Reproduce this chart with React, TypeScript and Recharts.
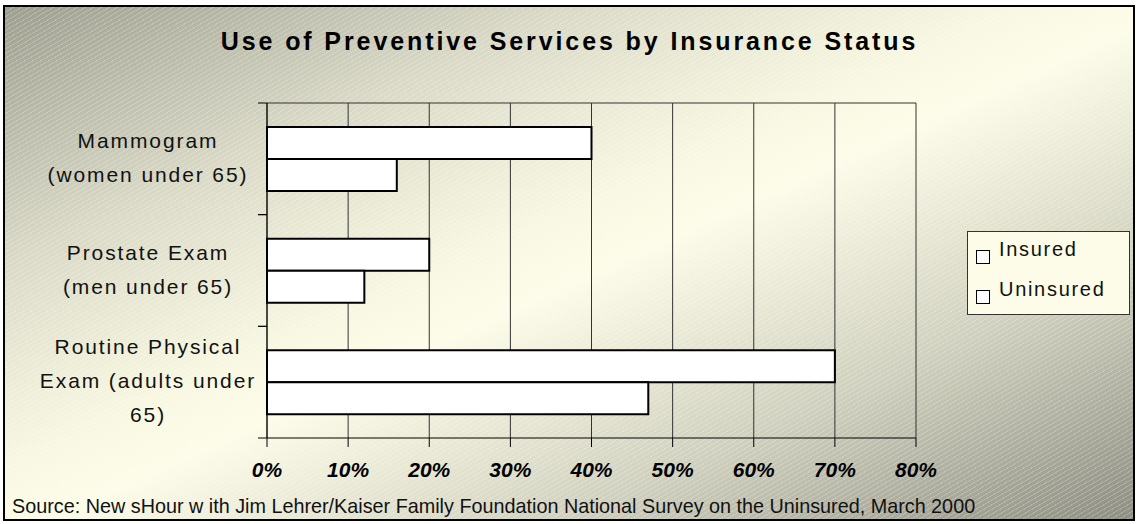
import React from "react";
import { BarChart, Bar, XAxis, YAxis, CartesianGrid, Legend } from "recharts";

const categories = [
  "Mammogram\n(women under 65)",
  "Prostate Exam\n(men under 65)",
  "Routine Physical\nExam (adults under\n65)",
];
const insured = [40, 20, 70];
const uninsured = [16, 12, 47];
const xTicks = [0, 10, 20, 30, 40, 50, 60, 70, 80];

const title = "Use of Preventive Services by Insurance Status";
const source =
  "Source: New sHour w ith Jim Lehrer/Kaiser Family Foundation National Survey on the Uninsured, March 2000";

const W = 1136;
const H = 524;
const M = { top: 103, right: 220, bottom: 46, left: 7 };
const XAXIS_H = 40;
const YAXIS_W = 260;
const FONT = '"Liberation Sans", Arial, sans-serif';

const data = categories.map((name, i) => ({
  name,
  insured: insured[i],
  uninsured: uninsured[i],
}));

const band = (H - M.top - M.bottom - XAXIS_H) / categories.length;

// multi-line category label + tick marks on the band edges
function CatTick(props: any) {
  const { x, y, payload } = props;
  const axisX = x + 9;
  const lines = String(payload.value).split("\n");
  const cx = axisX - 119;
  return (
    <g>
      <line x1={axisX - 9} x2={axisX} y1={y - band / 2} y2={y - band / 2} stroke="#000" />
      <line x1={axisX - 9} x2={axisX} y1={y + band / 2} y2={y + band / 2} stroke="#000" />
      <text
        textAnchor="middle"
        fontFamily={FONT}
        fontSize={21}
        letterSpacing={1.9}
        fill="#111"
      >
        {lines.map((l, i) => (
          <tspan key={i} x={cx} y={y + (i - (lines.length - 1) / 2) * 34 + 6}>
            {l}
          </tspan>
        ))}
      </text>
    </g>
  );
}

function LegendBox({ payload }: any) {
  return (
    <div
      style={{
        position: "relative",
        width: 163,
        height: 84,
        boxSizing: "border-box",
        border: "1px solid #333",
        background: "#fcfce8",
        fontFamily: FONT,
      }}
    >
      {(payload || []).map((p: any, i: number) => (
        <div key={i}>
          <div
            style={{
              position: "absolute",
              left: 8,
              top: 18 + i * 40,
              width: 14,
              height: 14,
              boxSizing: "border-box",
              border: "1.5px solid #000",
              background: "#fff",
            }}
          />
          <div
            style={{
              position: "absolute",
              left: 31,
              top: 7 + i * 40,
              fontSize: 20,
              lineHeight: "20px",
              letterSpacing: 1.7,
              color: "#111",
              whiteSpace: "nowrap",
            }}
          >
            {p.value}
          </div>
        </div>
      ))}
    </div>
  );
}

export default function App() {
  return (
    <div style={{ position: "absolute", left: 0, top: 0, width: W, height: H, background: "#fff" }}>
      <div
        style={{
          position: "absolute",
          left: 3,
          top: 5,
          width: 1132,
          height: 516,
          boxSizing: "border-box",
          border: "2px solid #000",
          background:
            "repeating-linear-gradient(150deg, rgba(255,255,255,0.22) 0px 1px, rgba(255,255,255,0) 1px 4px), linear-gradient(to bottom right, #9e9e8f 0%, #d9d9c6 25%, #f8f8e2 45%, #fcfce8 52%, #d0d0be 75%, #8e8e82 100%)",
        }}
      />
      <div
        style={{
          position: "absolute",
          left: 0,
          top: 29,
          width: W,
          textAlign: "center",
          fontFamily: FONT,
          fontWeight: 700,
          fontSize: 25,
          lineHeight: "25px",
          letterSpacing: 2.9,
          paddingLeft: 3,
          boxSizing: "border-box",
          color: "#000",
        }}
      >
        {title}
      </div>
      <div style={{ position: "absolute", left: 0, top: 0 }}>
        <BarChart
          width={W}
          height={H}
          data={data}
          layout="vertical"
          margin={M}
          barCategoryGap={24}
          barGap={0}
        >
          <CartesianGrid
            stroke="#333"
            vertical
            horizontal
            horizontalCoordinatesGenerator={({ offset }: any) => [offset.top]}
          />
          <XAxis
            type="number"
            domain={[0, 80]}
            ticks={xTicks}
            height={XAXIS_H}
            tickFormatter={(v) => v + "%"}
            axisLine={{ stroke: "#000" }}
            tickLine={{ stroke: "#000" }}
            tickSize={9}
            tickMargin={15}
            tick={{ fontSize: 21, fontWeight: 700, fontStyle: "italic", fill: "#000", fontFamily: FONT }}
          />
          <YAxis
            type="category"
            dataKey="name"
            width={YAXIS_W}
            interval={0}
            tickSize={9}
            tickMargin={0}
            tickLine={false}
            axisLine={{ stroke: "#000" }}
            tick={<CatTick />}
          />
          <Legend
            layout="horizontal"
            verticalAlign="middle"
            align="center"
            wrapperStyle={{ left: 967, top: 231, width: 163, height: 84 }}
            content={<LegendBox />}
          />
          <Bar dataKey="insured" name="Insured" fill="#fff" stroke="#000" strokeWidth={2} isAnimationActive={false} />
          <Bar dataKey="uninsured" name="Uninsured" fill="#fff" stroke="#000" strokeWidth={2} isAnimationActive={false} />
        </BarChart>
      </div>
      <div
        style={{
          position: "absolute",
          left: 12,
          top: 496,
          fontFamily: FONT,
          fontSize: 19.8,
          lineHeight: "20px",
          color: "#111",
          whiteSpace: "pre",
        }}
      >
        {source}
      </div>
    </div>
  );
}
